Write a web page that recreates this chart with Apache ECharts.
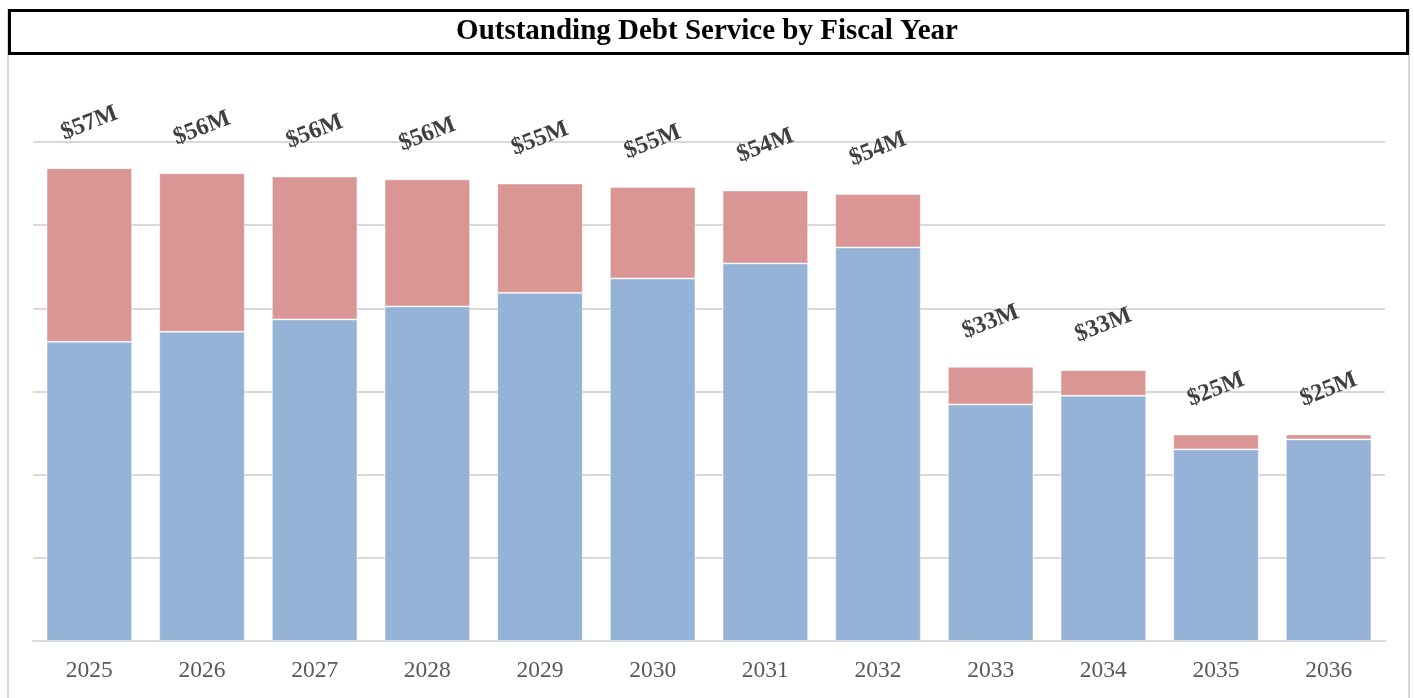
<!DOCTYPE html>
<html>
<head>
<meta charset="utf-8">
<title>Outstanding Debt Service by Fiscal Year</title>
<script src="https://cdn.jsdelivr.net/npm/echarts@6/dist/echarts.min.js"></script>
<style>
  html, body { margin: 0; padding: 0; background: #ffffff; }
  #chart { width: 1414px; height: 698px; }
</style>
</head>
<body>
<div id="chart"></div>
<script>
// Fiscal years
const years = ['2025', '2026', '2027', '2028', '2029', '2030', '2031', '2032', '2033', '2034', '2035', '2036'];
// Principal portion, $M
const principal = [35.97, 37.18, 38.67, 40.23, 41.86, 43.59, 45.40, 47.32, 28.45, 29.48, 23.04, 24.24];
// Interest portion, $M
const interest = [20.88, 19.07, 17.18, 15.29, 13.15, 11.01, 8.77, 6.44, 4.52, 3.09, 1.80, 0.60];
// Value axis ticks, $M
const yMin = 0, yMax = 60, yStep = 10;

const totals = principal.map((p, i) => p + interest[i]);

const chart = echarts.init(document.getElementById('chart'), null, { renderer: 'canvas' });

const serif = '"Liberation Serif", "DejaVu Serif", serif';

chart.setOption({
  backgroundColor: '#ffffff',
  animation: false,
  graphic: [
    {
      type: 'rect',
      z: 0,
      shape: { x: 8, y: 10, width: 1401, height: 700 },
      style: { fill: 'none', stroke: '#d9d9d9', lineWidth: 2 }
    },
    {
      type: 'rect',
      z: 10,
      shape: { x: 9.5, y: 10.5, width: 1398, height: 43 },
      style: { fill: '#ffffff', stroke: '#000000', lineWidth: 3 }
    },
    {
      type: 'text',
      z: 11,
      left: 'center',
      top: 17,
      style: {
        text: 'Outstanding Debt Service by Fiscal Year',
        font: 'bold 29px ' + serif,
        fill: '#000000'
      }
    }
  ],
  grid: { left: 33, right: 29, top: 142, bottom: 57 },
  xAxis: {
    type: 'category',
    data: years,
    axisTick: { show: false },
    axisLine: { lineStyle: { color: '#d9d9d9', width: 2 } },
    axisLabel: {
      fontFamily: serif,
      fontSize: 23.5,
      color: '#595959',
      margin: 18
    }
  },
  yAxis: {
    type: 'value',
    min: yMin,
    max: yMax,
    interval: yStep,
    axisLabel: { show: false },
    axisLine: { show: false },
    axisTick: { show: false },
    splitLine: { lineStyle: { color: '#d9d9d9', width: 2 } }
  },
  series: [
    {
      name: 'Principal',
      type: 'bar',
      stack: 'debt',
      data: principal,
      barCategoryGap: '24%',
      itemStyle: { color: '#95b3d7', borderColor: 'rgba(255,255,255,0.45)', borderWidth: 1 }
    },
    {
      name: 'Interest',
      type: 'bar',
      stack: 'debt',
      data: interest,
      barCategoryGap: '24%',
      itemStyle: { color: '#d99694', borderColor: 'rgba(255,255,255,0.45)', borderWidth: 1 },
      label: {
        show: true,
        position: 'top',
        distance: 45,
        rotate: 21,
        align: 'center',
        verticalAlign: 'middle',
        fontFamily: serif,
        fontWeight: 'bold',
        fontSize: 24,
        color: '#404040',
        formatter: (p) => '$' + Math.round(totals[p.dataIndex]) + 'M'
      }
    }
  ]
});
</script>
</body>
</html>
